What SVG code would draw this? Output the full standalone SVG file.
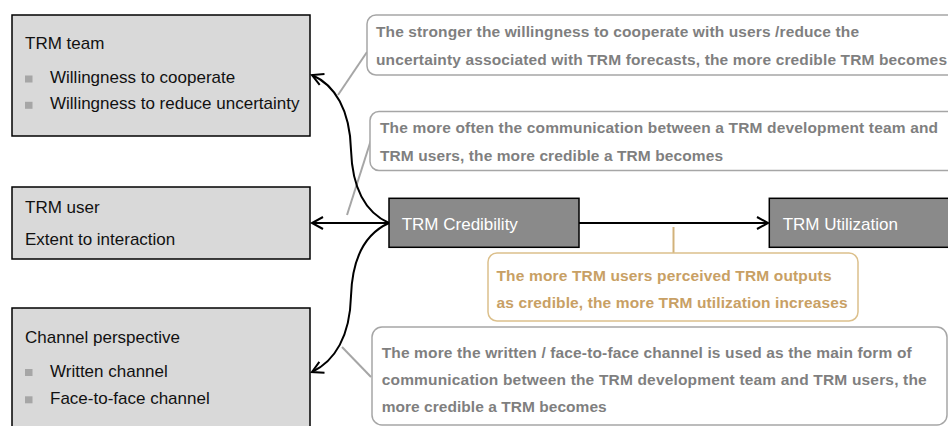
<svg xmlns="http://www.w3.org/2000/svg" width="948" height="426" viewBox="0 0 948 426">
<style>
.lbox{fill:#d9d9d9;stroke:#000;stroke-width:1.5}
.dbox{fill:#8a8a8a;stroke:#000;stroke-width:1.5}
.t{font-family:"Liberation Sans",Arial,sans-serif;font-size:17px;fill:#111}
.tw{font-family:"Liberation Sans",Arial,sans-serif;font-size:17px;fill:#fff}
.bul{fill:#a6a6a6}
.cg{fill:#fff;stroke:#a6a6a6;stroke-width:1.5}
.ct{fill:#fff;stroke:#dcc08c;stroke-width:1.5}
.tg{font-family:"Liberation Sans",Arial,sans-serif;font-size:15.5px;font-weight:bold;fill:#7f7f7f}
.tt{font-family:"Liberation Sans",Arial,sans-serif;font-size:15.5px;font-weight:bold;fill:#c8a064}
.conn{fill:none;stroke:#000;stroke-width:2}
.ptr{fill:none;stroke:#a6a6a6;stroke-width:2}
.ptrt{fill:none;stroke:#d2b27a;stroke-width:2}
</style>
<defs>
<marker id="arr" markerWidth="16" markerHeight="16" refX="13" refY="8" orient="auto" markerUnits="userSpaceOnUse">
<path d="M2,2 L13,8 L2,14" fill="none" stroke="#000" stroke-width="2"/>
</marker>
</defs>

<g id="callout-team">
<path class="ptr" d="M367,52 L338,95"/>
<rect class="cg" x="367" y="15" width="600" height="60" rx="9"/>
<text class="tg" x="376" y="37.3" textLength="483" lengthAdjust="spacing">The stronger the willingness to cooperate with users /reduce the</text>
<text class="tg" x="376" y="65" textLength="571" lengthAdjust="spacing">uncertainty associated with TRM forecasts, the more credible TRM becomes</text>
</g>

<g id="callout-user">
<path class="ptr" d="M371,140 L347,215"/>
<rect class="cg" x="370" y="111.5" width="600" height="59" rx="9"/>
<text class="tg" x="380" y="132.7" textLength="558" lengthAdjust="spacing">The more often the communication between a TRM development team and</text>
<text class="tg" x="380" y="160.7" textLength="343" lengthAdjust="spacing">TRM users, the more credible a TRM becomes</text>
</g>

<g id="callout-channel">
<path class="ptr" d="M342,347 L371,377"/>
<rect class="cg" x="372" y="327" width="575" height="98" rx="10"/>
<text class="tg" x="381.7" y="358.3" textLength="530" lengthAdjust="spacing">The more the written / face-to-face channel is used as the main form of</text>
<text class="tg" x="381.7" y="385" textLength="545" lengthAdjust="spacing">communication between the TRM development team and TRM users, the</text>
<text class="tg" x="381.7" y="411.7" textLength="225" lengthAdjust="spacing">more credible a TRM becomes</text>
</g>

<g id="team">
<rect class="lbox" x="12" y="15" width="298" height="121"/>
<text class="t" x="25" y="49.3">TRM team</text>
<rect class="bul" x="25" y="75.5" width="7.5" height="7"/>
<text class="t" x="50" y="83.3">Willingness to cooperate</text>
<rect class="bul" x="25" y="101.8" width="7.5" height="7"/>
<text class="t" x="50" y="109.3">Willingness to reduce uncertainty</text>
</g>

<g id="user">
<rect class="lbox" x="12" y="187" width="298" height="72"/>
<text class="t" x="25" y="213.3">TRM user</text>
<text class="t" x="25" y="245">Extent to interaction</text>
</g>

<g id="channel">
<rect class="lbox" x="12" y="308" width="298" height="130"/>
<text class="t" x="25" y="343.3">Channel perspective</text>
<rect class="bul" x="25" y="369" width="7.5" height="7"/>
<text class="t" x="50" y="376.7">Written channel</text>
<rect class="bul" x="25" y="396.3" width="7.5" height="7"/>
<text class="t" x="50" y="404">Face-to-face channel</text>
</g>

<g id="credibility">
<rect class="dbox" x="389" y="198.3" width="190" height="49"/>
<text class="tw" x="401.7" y="230">TRM Credibility</text>
</g>

<g id="utilization">
<rect class="dbox" x="769.3" y="198.3" width="200" height="49"/>
<text class="tw" x="782.7" y="230">TRM Utilization</text>
</g>

<g id="connectors">
<path class="conn" d="M389,223 C360,210 352,180 351,150 C350,110 335,85 312,75" marker-end="url(#arr)"/>
<path class="conn" d="M389,223 L312,223" marker-end="url(#arr)"/>
<path class="conn" d="M389,223 C360,236 352,266 351,296 C350,336 335,361 312,372" marker-end="url(#arr)"/>
<path class="conn" d="M579,223 L768,223" marker-end="url(#arr)"/>
</g>

<g id="callout-utilization">
<path class="ptrt" d="M673.5,227 L673.5,253"/>
<rect class="ct" x="488" y="253" width="370" height="68" rx="9"/>
<text class="tt" x="496.5" y="280.7" textLength="335" lengthAdjust="spacing">The more TRM users perceived TRM outputs</text>
<text class="tt" x="496.5" y="308.3" textLength="351" lengthAdjust="spacing">as credible, the more TRM utilization increases</text>
</g>
</svg>
